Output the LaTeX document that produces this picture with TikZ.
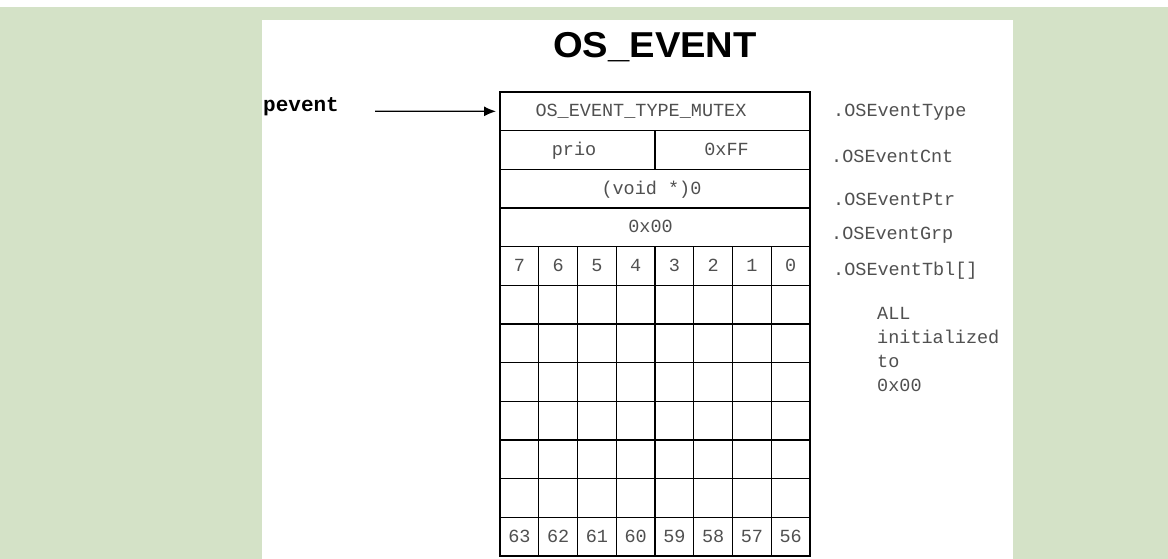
\documentclass[tikz,border=0pt]{standalone}
\usepackage{fontspec}
\setmainfont{Liberation Sans}
\newfontfamily\titlefont[FakeStretch=1.06]{Liberation Sans}
\newfontfamily\codefont{Liberation Mono}
\usetikzlibrary{arrows.meta}
\definecolor{pagegreen}{RGB}{212,226,199}
\definecolor{codegray}{RGB}{80,80,80}
\begin{document}
\begin{tikzpicture}[x=1pt,y=-1pt,
  codetext/.style={text=codegray, font=\codefont\fontsize{18.5}{24}\selectfont},
  cell/.style={codetext, draw=black, line width=1.4pt, anchor=north west,
    inner sep=0pt, outer sep=0pt, minimum height=38.67pt,
    text height=11pt, text depth=0pt},
  wide/.style={cell, minimum width=310pt},
  half/.style={cell, minimum width=155pt},
  bit/.style={cell, minimum width=38.75pt},
  field/.style={codetext, anchor=base west, inner sep=0pt},
  pointer/.style={line width=1.3pt, -{Latex[length=12pt,width=10pt]}},
]
\useasboundingbox (0,0) rectangle (1168,559);
% page background and white panel
\fill[white] (0,0) rectangle (1168,559);
\fill[pagegreen] (0,7) rectangle (1168,559);
\fill[white] (262,20) rectangle (1013,559);

% title
\node[anchor=base west, inner sep=0pt, font=\titlefont\bfseries\fontsize{36}{40}\selectfont] (title) at (553,58) {OS\_EVENT};

% event control block fields
\node[wide] (type) at (500,92) {OS\_EVENT\_TYPE\_MUTEX\hspace*{28pt}};
\node[half] (prio) at (500,130.67) {prio\hspace*{7pt}};
\node[half] (cnt) at (655,130.67) {0xFF\hspace*{12pt}};
\node[wide] (ptr) at (500,169.33) {(void *)0\hspace*{7pt}};
\node[wide] (grp) at (500,208) {0x00\hspace*{9pt}};

% wait list table: 8 x 8 bits
\foreach \c in {0,...,7}{
  \pgfmathtruncatemacro{\hi}{7-\c}
  \pgfmathtruncatemacro{\lo}{63-\c}
  \node[bit] (b0-\c) at ({500+38.75*\c},246.67) {\hi};
  \foreach \r in {1,...,6}{
    \node[bit] (b\r-\c) at ({500+38.75*\c},{246.67+38.67*\r}) {};
  }
  \node[bit] (b7-\c) at ({500+38.75*\c},517.33) {\lo};
}

% field names
\node[field] (lType) at (833,117) {.OSEventType};
\node[field] (lCnt) at (831,163) {.OSEventCnt};
\node[field] (lPtr) at (833,205) {.OSEventPtr};
\node[field] (lGrp) at (831,239) {.OSEventGrp};
\node[field] (lTbl) at (833,275) {.OSEventTbl[]};
\node[codetext, anchor=north west, inner sep=0pt, align=left] (note) at (877,307) {ALL\\initialized\\to\\0x00};

% pointer to the block
\node[anchor=base west, inner sep=0pt, font=\codefont\bfseries\fontsize{21}{24}\selectfont] (pevent) at (263,112) {pevent};
\coordinate (tail) at (375,111.33);
\draw[pointer] (tail) -- ([xshift=-4pt]type.west);
\end{tikzpicture}
\end{document}
